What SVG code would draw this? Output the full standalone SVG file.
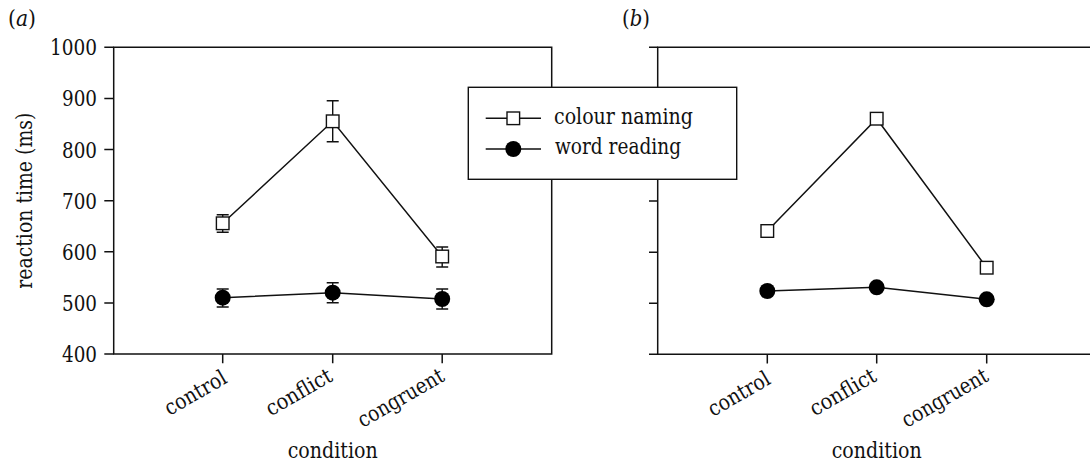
<svg xmlns="http://www.w3.org/2000/svg" width="1090" height="463" viewBox="0 0 1090 463">
<style>
text{font-family:'DejaVu Serif Condensed','DejaVu Serif',serif;font-size:21.5px;fill:#111}
.num{font-size:22px}
.ax{stroke:#111;stroke-width:1.5;fill:none}
.ln{stroke:#111;stroke-width:1.5;fill:none}
.eb{stroke:#111;stroke-width:1.4;fill:none}
.sq{fill:#fff;stroke:#111;stroke-width:1.4}
.ci{fill:#000;stroke:none}
.tk{text-anchor:end}
.mid{text-anchor:middle}
</style>
<defs>
<rect id="sqm" class="sq" x="-6.3" y="-6.3" width="12.6" height="12.6"/>
<circle id="cim" class="ci" r="8"/>
</defs>
<g id="panel-a">
<text x="8" y="26" textLength="28" lengthAdjust="spacingAndGlyphs">(<tspan font-style="italic">a</tspan>)</text>
<g id="axes-a">
<path class="ax" d="M113.7,47.3H551.7V354H113.7Z"/>
<path class="ax" d="M104.3,47.3H113.7M104.3,98.4H113.7M104.3,149.5H113.7M104.3,200.7H113.7M104.3,251.8H113.7M104.3,302.9H113.7M104.3,354H113.7"/>
<path class="ax" d="M222.7,354V363.3M332.7,354V363.3M442.2,354V363.3"/>
<text class="tk num" x="97" y="55.3" textLength="47" lengthAdjust="spacingAndGlyphs">1000</text>
<text class="tk num" x="97" y="106.4" textLength="35" lengthAdjust="spacingAndGlyphs">900</text>
<text class="tk num" x="97" y="157.5" textLength="35" lengthAdjust="spacingAndGlyphs">800</text>
<text class="tk num" x="97" y="208.7" textLength="35" lengthAdjust="spacingAndGlyphs">700</text>
<text class="tk num" x="97" y="259.8" textLength="35" lengthAdjust="spacingAndGlyphs">600</text>
<text class="tk num" x="97" y="310.9" textLength="35" lengthAdjust="spacingAndGlyphs">500</text>
<text class="tk num" x="97" y="362" textLength="35" lengthAdjust="spacingAndGlyphs">400</text>
<text class="mid" transform="translate(31.5,200.7) rotate(-90)" textLength="176" lengthAdjust="spacingAndGlyphs">reaction time (ms)</text>
<text class="tk" transform="translate(228.5,382) rotate(-30)" textLength="68" lengthAdjust="spacingAndGlyphs">control</text>
<text class="tk" transform="translate(334,380) rotate(-30)" textLength="73" lengthAdjust="spacingAndGlyphs">conflict</text>
<text class="tk" transform="translate(446,380) rotate(-30)" textLength="96" lengthAdjust="spacingAndGlyphs">congruent</text>
<text class="mid" x="332.7" y="457.5" textLength="90" lengthAdjust="spacingAndGlyphs">condition</text>
</g>
<g id="series-a">
<polyline class="ln" points="222.7,223.3 332.7,121.3 442.2,256.5"/>
<polyline class="ln" points="222.7,297.7 332.7,292.7 442.2,299"/>
<path class="eb" d="M222.7,214.7V232.3M216.7,214.7H228.7M216.7,232.3H228.7"/>
<path class="eb" d="M332.7,100.7V141.7M326.7,100.7H338.7M326.7,141.7H338.7"/>
<path class="eb" d="M442.2,247V267M436.2,247H448.2M436.2,267H448.2"/>
<path class="eb" d="M222.7,289V307M216.7,289H228.7M216.7,307H228.7"/>
<path class="eb" d="M332.7,282.7V302.7M326.7,282.7H338.7M326.7,302.7H338.7"/>
<path class="eb" d="M442.2,289V309M436.2,289H448.2M436.2,309H448.2"/>
<use href="#sqm" x="222.7" y="223.3"/>
<use href="#sqm" x="332.7" y="121.3"/>
<use href="#sqm" x="442.2" y="256.5"/>
<use href="#cim" x="222.7" y="297.7"/>
<use href="#cim" x="332.7" y="292.7"/>
<use href="#cim" x="442.2" y="299"/>
</g>
</g>

<g id="panel-b">
<text x="622" y="26" textLength="28" lengthAdjust="spacingAndGlyphs">(<tspan font-style="italic">b</tspan>)</text>
<g id="axes-b">
<path class="ax" d="M1090,47.3H657.7V354.3H1090"/>
<path class="ax" d="M649,47.3H657.7M649,98.4H657.7M649,149.5H657.7M649,200.9H657.7M649,252.2H657.7M649,303.3H657.7M649,354.3H657.7"/>
<path class="ax" d="M767.3,354.3V363.6M876.7,354.3V363.6M986.7,354.3V363.6"/>
<text class="tk" transform="translate(772,383) rotate(-30)" textLength="68" lengthAdjust="spacingAndGlyphs">control</text>
<text class="tk" transform="translate(878,380) rotate(-30)" textLength="73" lengthAdjust="spacingAndGlyphs">conflict</text>
<text class="tk" transform="translate(990,380) rotate(-30)" textLength="96" lengthAdjust="spacingAndGlyphs">congruent</text>
<text class="mid" x="876.7" y="457.5" textLength="90" lengthAdjust="spacingAndGlyphs">condition</text>
</g>
<g id="series-b">
<polyline class="ln" points="767.3,231 876.7,118.7 986.7,267.7"/>
<polyline class="ln" points="767.3,291 876.7,287.3 986.7,299.3"/>
<use href="#sqm" x="767.3" y="231"/>
<use href="#sqm" x="876.7" y="118.7"/>
<use href="#sqm" x="986.7" y="267.7"/>
<use href="#cim" x="767.3" y="291"/>
<use href="#cim" x="876.7" y="287.3"/>
<use href="#cim" x="986.7" y="299.3"/>
</g>
</g>

<g id="legend">
<rect x="468.3" y="87.3" width="268.4" height="92" fill="#fff" stroke="#111" stroke-width="1.4"/>
<path class="ln" d="M485.7,118.3H541M485.7,149H541"/>
<use href="#sqm" x="513.3" y="118.3"/>
<use href="#cim" x="513.3" y="149"/>
<text x="554" y="124" textLength="139" lengthAdjust="spacingAndGlyphs">colour naming</text>
<text x="555" y="154" textLength="126" lengthAdjust="spacingAndGlyphs">word reading</text>
</g>
</svg>
